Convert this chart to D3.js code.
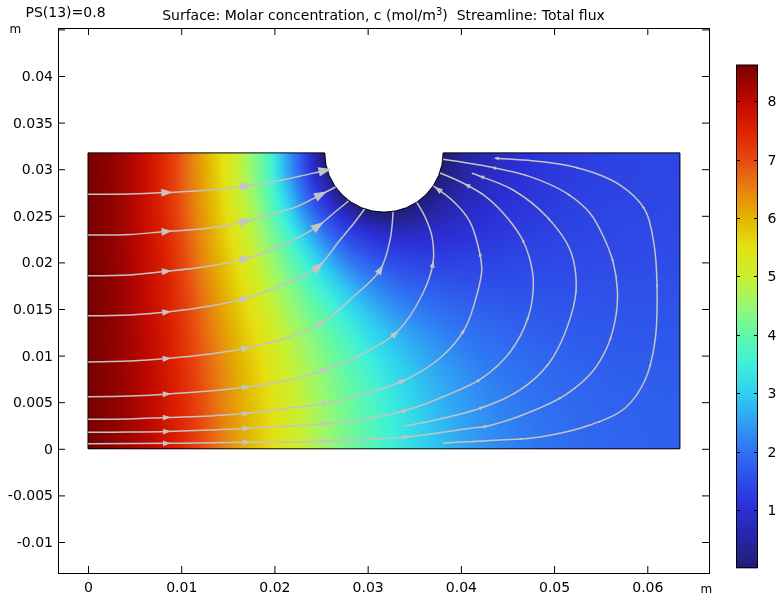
<!DOCTYPE html>
<html><head><meta charset="utf-8">
<script src="https://cdn.jsdelivr.net/npm/d3@7"></script>
<style>
body{margin:0;background:#fff;}
#wrap{position:relative;width:777px;height:598px;overflow:hidden;}
canvas,svg{position:absolute;left:0;top:0;}
</style></head><body><div id="wrap"><canvas id="cv" width="777" height="598"></canvas><svg id="sv" width="777" height="598"></svg></div>
<script>
// ---------------- data ----------------
const xTickValues=[0,0.01,0.02,0.03,0.04,0.05,0.06];
const xTickLabels=["0","0.01","0.02","0.03","0.04","0.05","0.06"];
const yTickValues=[-0.01,-0.005,0,0.005,0.01,0.015,0.02,0.025,0.03,0.035,0.04,0.045];
const yTickLabels=["-0.01","-0.005","0","0.005","0.01","0.015","0.02","0.025","0.03","0.035","0.04",""];
const colorbarTicks=[1,2,3,4,5,6,7,8];
const concRange=[0.01,8.62];
const domainSize=[0.0635,0.03175];
const holeCenter=[0.03175,0.03175];
const holeRadius=0.00635;
const holeConc=0;
const titleText="Surface: Molar concentration, c (mol/m";
const titleText2=")  Streamline: Total flux";
const sweepLabel="PS(13)=0.8";

// concentration (mol/m^3) read on a 31 x 16 node grid (x: 0..0.0635, y: top row = 0.03175 .. bottom row = 0); null = inside the hole
const concGrid=[
[8.62,8.46,8.19,7.80,7.31,6.67,6.04,5.39,4.66,3.87,2.64,1.41,0.00,null,null,null,null,null,0.00,0.40,0.67,0.86,1.01,1.12,1.20,1.27,1.31,1.35,1.37,1.39,1.39],
[8.62,8.46,8.19,7.81,7.31,6.68,6.06,5.41,4.69,3.91,2.73,1.53,0.31,null,null,null,null,null,0.09,0.45,0.70,0.88,1.02,1.13,1.21,1.27,1.32,1.35,1.38,1.39,1.39],
[8.62,8.47,8.20,7.82,7.33,6.71,6.09,5.47,4.77,4.03,2.98,1.84,0.86,null,null,null,null,null,0.30,0.59,0.79,0.95,1.07,1.17,1.24,1.30,1.34,1.37,1.39,1.40,1.41],
[8.62,8.47,8.20,7.83,7.37,6.76,6.16,5.55,4.90,4.20,3.33,2.28,1.44,0.74,0.22,0.00,0.14,0.37,0.59,0.78,0.93,1.05,1.15,1.22,1.29,1.33,1.37,1.40,1.41,1.43,1.43],
[8.62,8.47,8.21,7.85,7.41,6.82,6.23,5.65,5.04,4.40,3.71,2.81,2.00,1.42,1.02,0.80,0.75,0.80,0.89,1.00,1.09,1.17,1.24,1.30,1.35,1.38,1.41,1.43,1.45,1.45,1.46],
[8.62,8.47,8.22,7.88,7.46,6.89,6.32,5.76,5.20,4.60,4.02,3.29,2.56,1.98,1.58,1.35,1.22,1.18,1.19,1.22,1.27,1.31,1.35,1.39,1.41,1.44,1.46,1.47,1.48,1.49,1.49],
[8.62,8.48,8.23,7.90,7.51,6.96,6.40,5.88,5.35,4.81,4.27,3.72,3.07,2.50,2.07,1.79,1.61,1.51,1.46,1.44,1.44,1.45,1.46,1.48,1.49,1.50,1.51,1.52,1.52,1.53,1.53],
[8.62,8.48,8.24,7.93,7.55,7.03,6.49,5.99,5.49,4.99,4.49,4.02,3.49,2.97,2.53,2.18,1.96,1.81,1.71,1.65,1.61,1.59,1.58,1.57,1.57,1.57,1.57,1.57,1.57,1.57,1.57],
[8.62,8.48,8.26,7.96,7.58,7.10,6.58,6.09,5.62,5.16,4.68,4.25,3.84,3.34,2.92,2.56,2.28,2.08,1.94,1.84,1.77,1.72,1.68,1.66,1.64,1.63,1.62,1.61,1.61,1.61,1.61],
[8.62,8.48,8.27,7.98,7.62,7.16,6.66,6.18,5.73,5.30,4.85,4.43,4.05,3.65,3.23,2.87,2.57,2.33,2.15,2.02,1.92,1.85,1.79,1.74,1.71,1.69,1.67,1.66,1.65,1.65,1.64],
[8.62,8.49,8.28,8.00,7.65,7.21,6.73,6.26,5.83,5.41,4.99,4.59,4.22,3.88,3.48,3.12,2.81,2.55,2.34,2.17,2.05,1.96,1.89,1.83,1.78,1.75,1.72,1.70,1.69,1.68,1.68],
[8.62,8.49,8.28,8.02,7.67,7.26,6.79,6.33,5.91,5.50,5.10,4.71,4.35,4.02,3.68,3.31,3.00,2.73,2.50,2.31,2.16,2.05,1.97,1.90,1.84,1.80,1.77,1.74,1.72,1.72,1.71],
[8.62,8.49,8.29,8.04,7.69,7.30,6.83,6.38,5.97,5.57,5.19,4.80,4.45,4.12,3.82,3.46,3.14,2.86,2.62,2.42,2.25,2.13,2.03,1.95,1.89,1.84,1.80,1.78,1.76,1.74,1.74],
[8.62,8.49,8.30,8.05,7.71,7.32,6.86,6.42,6.01,5.62,5.25,4.87,4.52,4.20,3.90,3.56,3.24,2.96,2.71,2.50,2.33,2.18,2.08,1.99,1.93,1.87,1.83,1.80,1.78,1.77,1.76],
[8.62,8.49,8.30,8.05,7.72,7.34,6.88,6.44,6.04,5.65,5.28,4.91,4.56,4.24,3.95,3.62,3.30,3.01,2.76,2.55,2.37,2.22,2.11,2.02,1.95,1.89,1.85,1.82,1.79,1.78,1.78],
[8.62,8.49,8.30,8.06,7.72,7.34,6.89,6.45,6.04,5.66,5.29,4.92,4.57,4.25,3.96,3.64,3.32,3.03,2.78,2.57,2.38,2.23,2.12,2.03,1.96,1.90,1.85,1.82,1.80,1.78,1.78]
];

// streamlines of total flux, points in metres, in flow order
const streamL1=[[0,0.02731],[0.00451,0.02734],[0.00848,0.0275],[0.01309,0.02776],[0.01706,0.0282],[0.02135,0.02895],[0.02382,0.0295],[0.02564,0.02991]];
const streamL2=[[0,0.02294],[0.00451,0.02299],[0.00805,0.02329],[0.01309,0.02369],[0.01706,0.02444],[0.02006,0.0253],[0.02242,0.02598],[0.02468,0.02712],[0.02656,0.02809]];
const streamL3=[[0,0.01857],[0.00451,0.01865],[0.00805,0.019],[0.01309,0.01961],[0.01706,0.02044],[0.02135,0.02208],[0.02457,0.02383],[0.0265,0.02541],[0.02795,0.02659]];
const streamL4=[[0,0.01428],[0.00451,0.01436],[0.00848,0.01468],[0.01309,0.01532],[0.01706,0.01618],[0.02006,0.01725],[0.02275,0.01843],[0.02468,0.0195],[0.02704,0.0224],[0.02865,0.02437],[0.02967,0.02573]];
const streamL5=[[0,0.00931],[0.00451,0.00942],[0.00848,0.00969],[0.01309,0.01017],[0.01706,0.01082],[0.02167,0.012],[0.02511,0.0135],[0.02843,0.01629],[0.03133,0.01918],[0.0324,0.0224],[0.03273,0.02544]];
const streamL6=[[0,0.00559],[0.00451,0.00567],[0.00848,0.00588],[0.01309,0.0062],[0.01706,0.00663],[0.02167,0.00738],[0.02543,0.00845],[0.0294,0.01017],[0.03315,0.01253],[0.03594,0.01672],[0.03702,0.02004],[0.03691,0.02273],[0.03616,0.02487],[0.03527,0.02643]];
const streamL7=[[0,0.00317],[0.00451,0.0032],[0.00848,0.00336],[0.01309,0.00352],[0.01706,0.00381],[0.02167,0.00438],[0.02564,0.00488],[0.03004,0.00599],[0.03401,0.00738],[0.03777,0.00974],[0.04045,0.01293],[0.04185,0.01704],[0.04224,0.01918],[0.04199,0.02115],[0.04099,0.02433],[0.03938,0.02637],[0.03705,0.0282]];
const streamL8=[[0,0.00177],[0.00451,0.0018],[0.00848,0.00186],[0.01309,0.00202],[0.01706,0.0022],[0.02167,0.00245],[0.02597,0.00274],[0.03026,0.0033],[0.03423,0.00416],[0.0383,0.00567],[0.04224,0.00756],[0.04528,0.01039],[0.04724,0.01417],[0.04778,0.01776],[0.04742,0.02026],[0.04653,0.02259],[0.04453,0.0253],[0.0426,0.02712],[0.04027,0.02849],[0.03777,0.02959]];
const streamL9=[[0,0.00055],[0.00848,0.00059],[0.01706,0.0007],[0.02597,0.00084],[0.03437,0.0013],[0.04099,0.0022],[0.04292,0.00245],[0.04742,0.00395],[0.05118,0.00577],[0.05408,0.00824],[0.05579,0.01114],[0.05665,0.01436],[0.05679,0.01704],[0.05633,0.02004],[0.05536,0.02262],[0.05386,0.02527],[0.05136,0.02741],[0.04742,0.0292],[0.04332,0.0302],[0.03809,0.03106]];
const streamC=[[0.03401,0.00245],[0.03777,0.0032],[0.04224,0.00441],[0.04635,0.00631],[0.04939,0.0091],[0.05129,0.01275],[0.05236,0.01704],[0.05172,0.02133],[0.04922,0.0249],[0.0456,0.02777],[0.04199,0.02927],[0.04117,0.02956]];
const streamE=[[0.03809,0.00062],[0.04421,0.00094],[0.0485,0.00127],[0.05386,0.00255],[0.05762,0.00438],[0.05976,0.00738],[0.06084,0.01167],[0.06105,0.01704],[0.06073,0.02187],[0.05976,0.02562],[0.05708,0.0283],[0.05172,0.03034],[0.04367,0.03117]];
const streamlines=[streamL1,streamL2,streamL3,streamL4,streamL5,streamL6,streamL7,streamL8,streamL9,streamC,streamE];

// colour table (fraction of range -> colour)
const cmapT=[0,0.06,0.116,0.174,0.232,0.29,0.348,0.406,0.464,0.522,0.58,0.64,0.696,0.754,0.812,0.87,0.928,1];
const cmapColors=["#1e1e74","#2626a8","#2b2fd6","#2e4ce8","#2f72f2","#30a0f4","#2fd0ef","#3ef0d8","#60f8a8","#98f870","#c8f030","#e4e010","#e4b400","#e88010","#e84810","#dd2200","#c00800","#7a0000"];

// ---------------- field interpolation ----------------
const NI=concGrid[0].length, NJ=concGrid.length;
const gx=d3.scaleLinear().domain([0,domainSize[0]]).range([0,NI-1]);
const gy=d3.scaleLinear().domain([0,domainSize[1]]).range([0,NJ-1]);
function node(i,j){i=Math.max(0,Math.min(NI-1,i));j=Math.max(0,Math.min(NJ-1,j));const v=concGrid[NJ-1-j][i];return v==null?holeConc:v;}
function cr(p0,p1,p2,p3,t){return 0.5*(2*p1+(-p0+p2)*t+(2*p0-5*p1+4*p2-p3)*t*t+(-p0+3*p1-3*p2+p3)*t*t*t);}
function fieldAt(x,y){
 const fi=gx(x), fj=gy(y);
 const i0=Math.max(0,Math.min(NI-2,Math.floor(fi))), j0=Math.max(0,Math.min(NJ-2,Math.floor(fj)));
 const tx=fi-i0, ty=fj-j0; const rows=[];
 for(let b=-1;b<=2;b++){rows.push(cr(node(i0-1,j0+b),node(i0,j0+b),node(i0+1,j0+b),node(i0+2,j0+b),tx));}
 const v=cr(rows[0],rows[1],rows[2],rows[3],ty);
 return Math.max(0,Math.min(concRange[1],v));
}

// ---------------- scales ----------------
const xs=d3.scaleLinear().domain([0,0.06]).range([88,647.3]);
const ys=d3.scaleLinear().domain([0,0.04]).range([448.8,76]);
const frame={l:58,r:709,t:28,b:573};
const color=d3.scaleLinear().domain(cmapT.map(t=>concRange[0]+t*(concRange[1]-concRange[0]))).range(cmapColors).clamp(true);
const lut=[];for(let k=0;k<=1024;k++){lut.push(d3.rgb(color(concRange[0]+k/1024*(concRange[1]-concRange[0]))));}
function lutColor(v){let k=Math.round((v-concRange[0])/(concRange[1]-concRange[0])*1024);k=Math.max(0,Math.min(1024,k));return lut[k];}

// ---------------- surface ----------------
const cv=document.getElementById('cv'), ctx=cv.getContext('2d');
const img=ctx.createImageData(777,598);
const px0=Math.floor(xs(0)), px1=Math.ceil(xs(domainSize[0])), py0=Math.floor(ys(domainSize[1])), py1=Math.ceil(ys(0));
for(let py=py0;py<=py1;py++)for(let px=px0;px<=px1;px++){
 const x=xs.invert(px+0.5), y=ys.invert(py+0.5);
 if(x<0||x>domainSize[0]||y<0||y>domainSize[1])continue;
 if((x-holeCenter[0])**2+(y-holeCenter[1])**2<holeRadius*holeRadius)continue;
 const col=lutColor(fieldAt(x,y)); const k=(py*777+px)*4;
 img.data[k]=col.r;img.data[k+1]=col.g;img.data[k+2]=col.b;img.data[k+3]=255;
}
ctx.putImageData(img,0,0);

const svg=d3.select('#sv');
const font='"DejaVu Sans", sans-serif';
const pxR=xs(holeRadius)-xs(0);
const dp=d3.path();
dp.moveTo(xs(0),ys(0));dp.lineTo(xs(domainSize[0]),ys(0));dp.lineTo(xs(domainSize[0]),ys(domainSize[1]));
dp.lineTo(xs(holeCenter[0]+holeRadius),ys(domainSize[1]));
dp.arc(xs(holeCenter[0]),ys(holeCenter[1]),pxR,0,Math.PI,false);
dp.lineTo(xs(0),ys(domainSize[1]));dp.closePath();
svg.append('path').attr('d',dp.toString()).attr('fill','none').attr('stroke','#000').attr('stroke-width',1);

// ---------------- streamlines ----------------
const line=d3.line().x(d=>xs(d[0])).y(d=>ys(d[1])).curve(d3.curveCatmullRom.alpha(0.5));
const sg=svg.append('g');
streamlines.forEach(s=>{
 const p=sg.append('path').attr('d',line(s)).attr('fill','none').attr('stroke','#c4c4c4').attr('stroke-width',1.5);
 const nd=p.node(), L=nd.getTotalLength();
 for(let d=79; d<=L-0.5; d+=80){
  const a=nd.getPointAtLength(d), b=nd.getPointAtLength(Math.max(0,d-1));
  let dx=a.x-b.x, dy=a.y-b.y; const n=Math.hypot(dx,dy)||1; dx/=n; dy/=n;
  const x=xs.invert(a.x), y=ys.invert(a.y), e=0.0005;
  const g1=(fieldAt(x+e,y)-fieldAt(x-e,y))/(2*e), g2=(fieldAt(x,y+e)-fieldAt(x,y-e))/(2*e);
  const g=Math.hypot(g1,g2);
  const len=Math.max(3.5,Math.min(13,2+0.035*g)), wd=len*0.36;
  const tip=[a.x+dx*len*0.5,a.y+dy*len*0.5], base=[a.x-dx*len*0.5,a.y-dy*len*0.5];
  sg.append('path').attr('d',`M${tip[0]},${tip[1]}L${base[0]-dy*wd},${base[1]+dx*wd}L${base[0]+dy*wd},${base[1]-dx*wd}Z`).attr('fill','#c4c4c4');
 }
});

// ---------------- frame & axes ----------------
svg.append('rect').attr('x',frame.l+0.5).attr('y',frame.t+0.5).attr('width',frame.r-frame.l).attr('height',frame.b-frame.t).attr('fill','none').attr('stroke','#000');
function styleAxis(g){g.select('.domain').remove();g.selectAll('line').attr('stroke','#000');g.selectAll('text').attr('font-size',14).attr('font-family',font).attr('fill','#000');}
svg.append('g').attr('transform',`translate(${frame.l},0)`).call(d3.axisLeft(ys).tickValues(yTickValues).tickSize(-7).tickPadding(5).tickFormat((d,i)=>yTickLabels[i])).call(styleAxis);
svg.append('g').attr('transform',`translate(${frame.r},0)`).call(d3.axisRight(ys).tickValues(yTickValues).tickSize(-7).tickFormat(()=>'')).call(styleAxis);
svg.append('g').attr('transform',`translate(0,${frame.b})`).call(d3.axisBottom(xs).tickValues(xTickValues).tickSize(-7).tickPadding(9.5).tickFormat((d,i)=>xTickLabels[i])).call(styleAxis);
svg.append('g').attr('transform',`translate(0,${frame.t})`).call(d3.axisTop(xs).tickValues(xTickValues).tickSize(-7).tickFormat(()=>'')).call(styleAxis);

svg.append('text').attr('x',25.5).attr('y',16.5).attr('font-family',font).attr('font-size',14).text(sweepLabel);
const tt=svg.append('text').attr('x',(frame.l+frame.r)/2).attr('y',19.5).attr('text-anchor','middle').attr('font-family',font).attr('font-size',14).style('white-space','pre');
tt.append('tspan').text(titleText);
tt.append('tspan').attr('font-size',10).attr('dy',-5).text('3');
tt.append('tspan').attr('dy',5).text(titleText2);
svg.append('text').attr('x',9.5).attr('y',32.5).attr('font-family',font).attr('font-size',12).text('m');
svg.append('text').attr('x',700.5).attr('y',592.7).attr('font-family',font).attr('font-size',12).text('m');

// ---------------- colour bar ----------------
const cb=d3.scaleLinear().domain(concRange).range([567.7,65]);
const cbx0=736.5, cbx1=757.5;
const cbg=svg.append('g');
for(let py=65;py<567.7;py+=1){
 cbg.append('rect').attr('x',cbx0).attr('y',py).attr('width',cbx1-cbx0).attr('height',1.2).attr('fill',color(cb.invert(py+0.5)));
}
cbg.append('rect').attr('x',cbx0).attr('y',65).attr('width',cbx1-cbx0).attr('height',567.7-65).attr('fill','none').attr('stroke','#000');
colorbarTicks.forEach(v=>{
 const y=Math.round(cb(v))+0.5;
 cbg.append('line').attr('x1',cbx0).attr('x2',cbx0+3.5).attr('y1',y).attr('y2',y).attr('stroke','#000');
 cbg.append('line').attr('x1',cbx1-3.5).attr('x2',cbx1).attr('y1',y).attr('y2',y).attr('stroke','#000');
 cbg.append('text').attr('x',767.5).attr('y',y).attr('dy','0.35em').attr('font-family',font).attr('font-size',14).text(v);
});
</script></body></html>
